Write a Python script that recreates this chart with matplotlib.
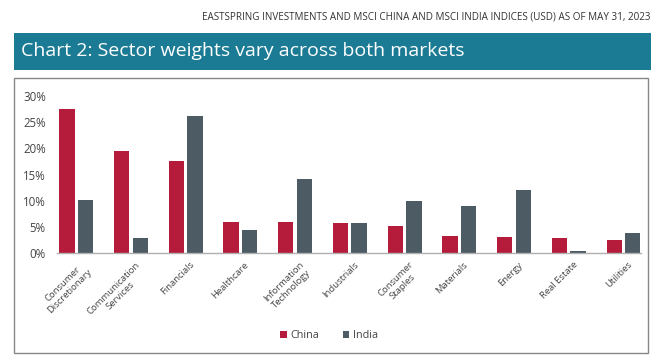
import matplotlib
matplotlib.use("Agg")
import matplotlib.pyplot as plt
from matplotlib.patches import Rectangle
import matplotlib.transforms as mtrans
import numpy as np

plt.rcParams["font.family"] = ["Open Sans", "DejaVu Sans"]

# data (percent)
sectors = ["Consumer\nDiscretionary", "Communication\nServices", "Financials",
           "Healthcare", "Information\nTechnology", "Industrials",
           "Consumer\nStaples", "Materials", "Energy", "Real Estate", "Utilities"]
china = [27.5, 19.4, 17.5, 5.9, 5.9, 5.7, 5.2, 3.3, 3.1, 2.9, 2.5]
india = [10.1, 2.9, 26.2, 4.3, 14.1, 5.7, 9.9, 9.0, 12.0, 0.4, 3.8]

red = "#b51c3b"
slate = "#4c5b64"
teal = "#1c7b94"
W, H = 661, 364

fig = plt.figure(figsize=(W / 100, H / 100), dpi=100)

# caption and title banner
fig.text(651 / W, 1 - 17 / H, "EASTSPRING INVESTMENTS AND MSCI CHINA AND MSCI INDIA INDICES (USD) AS OF MAY 31, 2023",
         ha="right", va="center", fontsize=7.1, color="#333333")
fig.patches.append(Rectangle((14 / W, 1 - 70 / H), (651 - 14) / W, 37 / H,
                             transform=fig.transFigure, facecolor=teal, edgecolor="none"))
fig.text(21 / W, 1 - 51 / H, "Chart 2: Sector weights vary across both markets",
         ha="left", va="center", fontsize=14, color="white")
# chart box
fig.patches.append(Rectangle((14 / W, 1 - 353 / H), (648 - 14) / W, (353 - 78) / H,
                             transform=fig.transFigure, facecolor="none",
                             edgecolor="#888888", linewidth=1))

ax = fig.add_axes([57 / W, 1 - 253 / H, (641 - 57) / W, (253 - 96) / H])
x = np.arange(len(sectors))
w = 0.28
ax.bar(x - 0.17, china, w, color=red, label="China")
ax.bar(x + 0.17, india, w, color=slate, label="India")

ax.set_xlim(-0.35, 10.32)
ax.set_ylim(0, 30)
ax.set_yticks(range(0, 31, 5))
ax.set_yticklabels([f"{v}%" for v in range(0, 31, 5)], fontsize=8.3, color="#444444")
ax.tick_params(axis="y", length=0, pad=8)
ax.set_xticks(x)
ax.set_xticklabels(sectors, rotation=45, ha="right", rotation_mode="anchor",
                   fontsize=6.8, color="#444444", multialignment="center")
ax.tick_params(axis="x", length=0, pad=5)
off = mtrans.ScaledTranslation(4 / 100, 0, fig.dpi_scale_trans)
for lab in ax.get_xticklabels():
    lab.set_transform(lab.get_transform() + off)
for s in ["top", "right", "left"]:
    ax.spines[s].set_visible(False)
ax.spines["bottom"].set_color("#b0b0b0")
ax.spines["bottom"].set_linewidth(1)

fig.legend(loc="center", bbox_to_anchor=(329 / W, 1 - 336 / H), ncol=2, frameon=False,
           fontsize=7.8, handlelength=0.6, handleheight=0.6, handletextpad=0.3,
           columnspacing=2.2, labelcolor="#444444")

fig.savefig("out.png", dpi=100)
